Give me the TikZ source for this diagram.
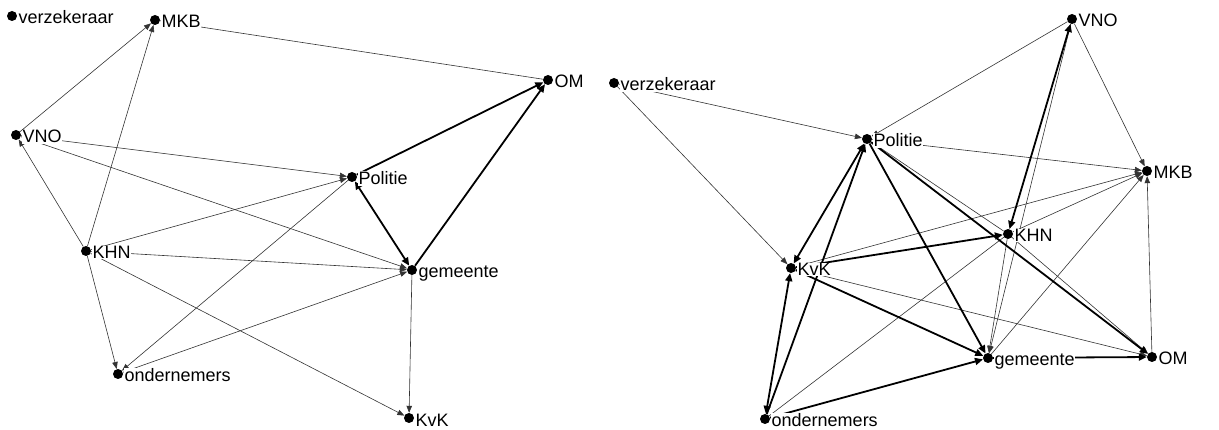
\documentclass[tikz,border=0pt]{standalone}
\usepackage{fontspec}
\setmainfont{Liberation Sans}
\usetikzlibrary{arrows.meta}
\begin{document}
\begin{tikzpicture}[x=1pt,y=-1pt,
  dot/.style={circle,fill=black,inner sep=0pt,minimum size=10pt},
  lbl/.style={anchor=base west,xshift=6pt,yshift=-8pt,fill=white,inner sep=0.5pt,font=\fontsize{18}{20}\selectfont},
  tie/.style={draw=black!80,line width=0.6pt,-{Triangle[length=7pt,width=5.5pt]}},
  tiend/.style={draw=black!80,line width=0.6pt},
  stie/.style={draw=black,line width=1.8pt,-{Triangle[length=8pt,width=7pt]}},
  stieb/.style={draw=black,line width=1.8pt,{Triangle[length=8pt,width=7pt]}-{Triangle[length=8pt,width=7pt]}}]
\useasboundingbox (0,0) rectangle (1219,430);
% ---------------- left network ----------------
\node[dot] (Lverz) at (12,16) {};
\node[dot] (LMKB) at (155,20) {};
\node[dot] (LOM) at (548,80) {};
\node[dot] (LVNO) at (16,135) {};
\node[dot] (LPol) at (352,177) {};
\node[dot] (LKHN) at (86,251) {};
\node[dot] (Lgem) at (412,270) {};
\node[dot] (Lond) at (118,374) {};
\node[dot] (LKvK) at (409,418) {};
\draw[tie] (LVNO) -- (LMKB);
\draw[tie] (LKHN) -- (LMKB);
\draw[tiend] (LMKB) -- (LOM);
\draw[tie] (LVNO) -- (LPol);
\draw[tie] (LVNO) -- (Lgem);
\draw[tie] (LKHN) -- (LVNO);
\draw[tie] (LKHN) -- (LPol);
\draw[tie] (LKHN) -- (Lgem);
\draw[tie] (LKHN) -- (Lond);
\draw[tie] (LKHN) -- (LKvK);
\draw[tie] (LPol) -- (Lond);
\draw[tie] (Lond) -- (Lgem);
\draw[tie] (Lgem) -- (LKvK);
\draw[stieb] (LPol) -- (Lgem);
\draw[stie] (LPol) -- (LOM);
\draw[stie] (Lgem) -- (LOM);
\node[lbl] (Lverzl) at (Lverz) {verzekeraar};
\node[lbl] (LMKBl) at (LMKB) {MKB};
\node[lbl] (LOMl) at (LOM) {OM};
\node[lbl] (LVNOl) at (LVNO) {VNO};
\node[lbl] (LPoll) at (LPol) {Politie};
\node[lbl] (LKHNl) at (LKHN) {KHN};
\node[lbl] (Lgeml) at (Lgem) {gemeente};
\node[lbl] (Londl) at (Lond) {ondernemers};
\node[lbl] (LKvKl) at (LKvK) {KvK};
% ---------------- right network ----------------
\node[dot] (Rverz) at (614,83) {};
\node[dot] (RVNO) at (1072,19) {};
\node[dot] (RPol) at (867,139) {};
\node[dot] (RMKB) at (1147,171) {};
\node[dot] (RKHN) at (1008,234) {};
\node[dot] (RKvK) at (791,268) {};
\node[dot] (Rgem) at (988,358) {};
\node[dot] (ROM) at (1152,357) {};
\node[dot] (Rond) at (765,419) {};
\draw[tie] (Rverz) -- (RPol);
\draw[tie] (Rverz) -- (RKvK);
\draw[tie] (RVNO) -- (RPol);
\draw[tie] (RVNO) -- (RMKB);
\draw[tie] (RVNO) -- (Rgem);
\draw[tie] (RPol) -- (RMKB);
\draw[tie] (RKHN) -- (RPol);
\draw[tie] (RKvK) -- (RMKB);
\draw[tie] (RKvK) -- (ROM);
\draw[tiend] (Rond) -- (RKHN);
\draw[tie] (RKHN) -- (RMKB);
\draw[tie] (RKHN) -- (Rgem);
\draw[tie] (RKHN) -- (ROM);
\draw[tie] (Rgem) -- (RMKB);
\draw[tie] (ROM) -- (RMKB);
\draw[stieb] (RVNO) -- (RKHN);
\draw[stieb] (RPol) -- (RKvK);
\draw[stie] (Rond) -- (RPol);
\draw[stie] (RPol) -- (Rgem);
\draw[stie] (RPol) -- (ROM);
\draw[stie] (RKvK) -- (RKHN);
\draw[stie] (RKvK) -- (Rgem);
\draw[stieb] (Rond) -- (RKvK);
\draw[stie] (Rond) -- (Rgem);
\draw[stie] (Rgem) -- (ROM);
\node[lbl] (Rverzl) at (Rverz) {verzekeraar};
\node[lbl] (RVNOl) at (RVNO) {VNO};
\node[lbl] (RPoll) at (RPol) {Politie};
\node[lbl] (RMKBl) at (RMKB) {MKB};
\node[lbl] (RKHNl) at (RKHN) {KHN};
\node[lbl] (RKvKl) at (RKvK) {KvK};
\node[lbl] (Rgeml) at (Rgem) {gemeente};
\node[lbl] (ROMl) at (ROM) {OM};
\node[lbl] (Rondl) at (Rond) {ondernemers};
\end{tikzpicture}
\end{document}
